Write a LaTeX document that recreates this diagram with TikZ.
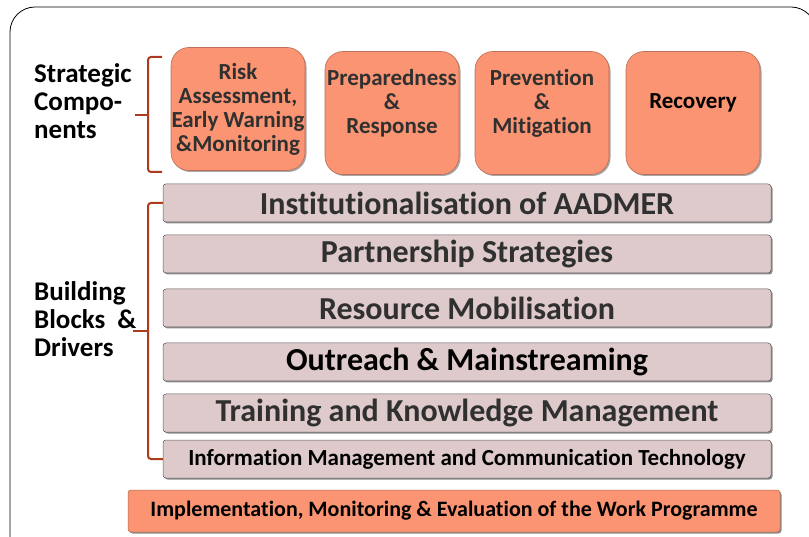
\documentclass[tikz,border=0pt]{standalone}
\usepackage{fontspec}
\setmainfont{Carlito}[Ligatures=NoCommon]
\usetikzlibrary{shadows}

\definecolor{salmon}{RGB}{250,148,114}
\definecolor{barpink}{RGB}{222,202,202}
\definecolor{rust}{RGB}{172,58,28}
\definecolor{txtgray}{RGB}{48,48,48}

\tikzset{
	comp/.style={rounded corners=18pt,fill=salmon,draw=salmon!75!black,line width=0.6pt,
		minimum width=134pt,minimum height=123pt,inner sep=0pt,align=center,text=txtgray,
		font=\bfseries\fontsize{23}{24}\selectfont,
		drop shadow={shadow xshift=1.5pt,shadow yshift=-1.5pt,fill=black,opacity=.35}},
	block/.style={rounded corners=3pt,fill=barpink,draw=gray!70!black,line width=0.5pt,
		minimum width=608pt,minimum height=38pt,inner sep=0pt,
		drop shadow={shadow xshift=1.5pt,shadow yshift=-1.5pt,fill=black,opacity=.45}},
	brace/.style={draw=rust,line width=2pt,rounded corners=3pt},
	side/.style={anchor=west,align=left,inner sep=0pt,font=\bfseries\fontsize{27}{28}\selectfont},
}

\begin{document}
\begin{tikzpicture}[x=1pt,y=-1pt]
\useasboundingbox (0,0) rectangle (809,537);

% outer frame
\draw[rounded corners=25pt,line width=0.8pt] (10,600) -- (10,7) -- (816,7) -- (816,600);

% strategic components
\node[comp] (risk) at (238,109) {Risk\\Assessment,\\Early Warning\\\&Monitoring};
\node[comp] (prep) at (392,113) {Preparedness\\\&\\Response\\~};
\node[comp] (prev) at (542,113) {Prevention\\\&\\Mitigation\\~};
\node[comp,text=black] (reco) at (693,113) {Recovery\\~};

% building blocks
\foreach \y/\n/\t/\f/\c in {
	203/inst/{Institutionalisation of AADMER}/32/txtgray,
	254/part/{Partnership Strategies}/32/txtgray,
	308/reso/{Resource Mobilisation}/32/txtgray,
	362/outr/{Outreach \& Mainstreaming}/32/black,
	413/trai/{Training and Knowledge Management}/32/txtgray,
	459/info/{Information Management and Communication Technology}/23/black} {
	\node[block,text=\c,font=\bfseries\fontsize{\f}{\f}\selectfont] (\n) at (467,\y) {\t};
}

% implementation
\node[block,fill=salmon,draw=salmon!70!black,minimum width=652pt,minimum height=42pt,
	text=black,font=\bfseries\fontsize{22}{22}\selectfont] (impl) at (454,511)
	{Implementation, Monitoring \& Evaluation of the Work Programme};

% braces
\coordinate (sTop) at (162,57);
\coordinate (sBot) at (162,172);
\coordinate (sTip) at (135,115);
\draw[brace] (sTop) -- (148,57) -- (148,172) -- (sBot);
\draw[brace,rounded corners=0pt] (148,115) -- (sTip);

\coordinate (bTop) at (inst.west);
\coordinate (bBot) at (info.west);
\coordinate (bTip) at (133,331);
\draw[brace] (bTop) -- (148,203) -- (148,459) -- (bBot);
\draw[brace,rounded corners=0pt] (148,331) -- (bTip);

% side labels
\node[side] (strat) at (34,101) {Strategic\\Compo-\\nents};
\node[side] (build) at (34,319) {Building\\Blocks~~\&\\Drivers};

\end{tikzpicture}
\end{document}
